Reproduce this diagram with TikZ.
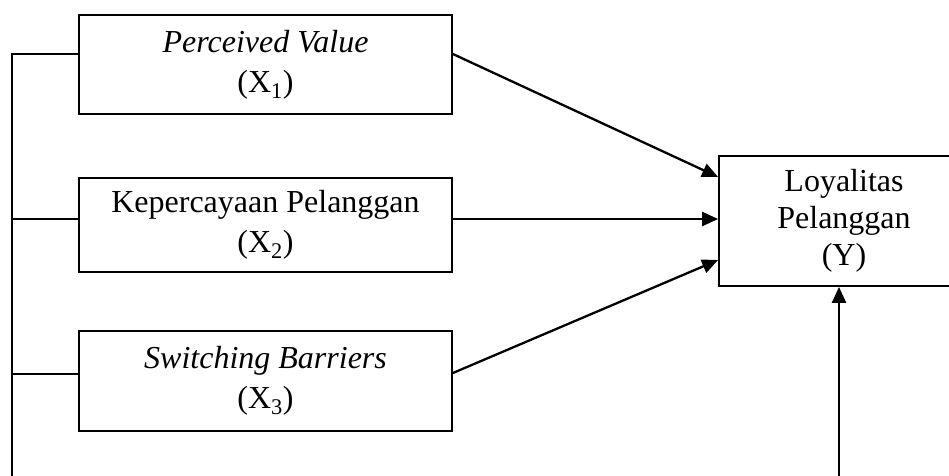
\documentclass[tikz,border=0pt]{standalone}
\usepackage{fontspec}
\setmainfont{Liberation Serif}
\usetikzlibrary{arrows.meta}
\begin{document}
\begin{tikzpicture}[x=1pt,y=1pt,line width=2.3pt,
  every node/.style={inner sep=0pt,font=\fontsize{32}{40}\selectfont},
  varbox/.style={draw,line width=1.8pt,minimum width=373pt,align=center},
  pathto/.style={-{Triangle[length=16pt,width=14pt]}}]
\clip (0,0) rectangle (949,-475);
% variabel bebas
\node [varbox,minimum height=99pt] (X1) at (265.5,-64.5) {\textit{Perceived Value}\\(X\textsubscript{1})};
\node [varbox,minimum height=94pt] (X2) at (265.5,-225) {Kepercayaan Pelanggan\\(X\textsubscript{2})};
\node [varbox,minimum height=100pt] (X3) at (265.5,-381) {\textit{Switching Barriers}\\(X\textsubscript{3})};
% variabel terikat
\node [varbox,minimum width=250pt,minimum height=130pt,font=\fontsize{32}{37}\selectfont] (Y) at (844,-221) {Loyalitas\\Pelanggan\\(Y)};
% garis kiri
\coordinate (spine) at (12,-490);
\coordinate (in1) at ([yshift=10.5pt]X1.west);
\coordinate (in2) at ([yshift=6pt]X2.west);
\coordinate (in3) at ([yshift=7pt]X3.west);
\draw (in1) -| (spine);
\draw (in2) -- (in2 -| spine);
\draw (in3) -- (in3 -| spine);
% panah ke Y
\draw [pathto] ([yshift=10.5pt]X1.east) -- ([yshift=44pt]Y.west);
\draw [pathto] ([yshift=6pt]X2.east) -- ([yshift=2pt]Y.west);
\draw [pathto] ([yshift=8pt]X3.east) -- ([yshift=-39pt]Y.west);
\coordinate (mod) at ([xshift=-5pt,yshift=-210pt]Y.south);
\draw [pathto] (mod) -- (mod |- Y.south);
\end{tikzpicture}
\end{document}
